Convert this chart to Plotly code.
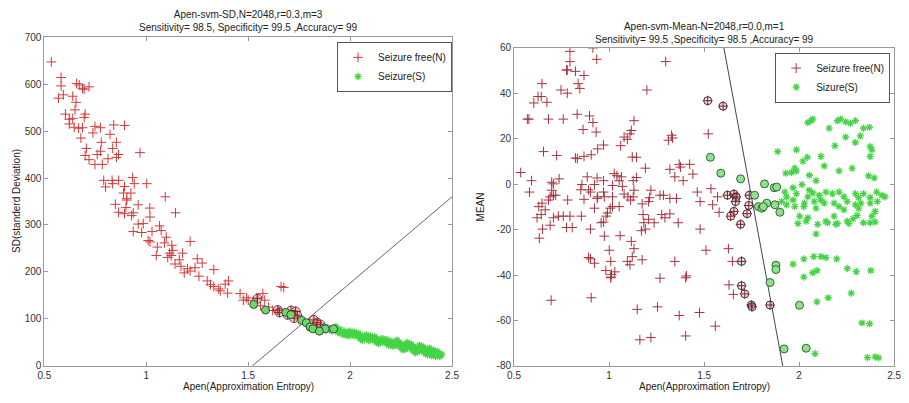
import plotly.graph_objects as go

# ---------------- Left panel: Apen vs SD ----------------
sd_n_pts = [(0.534,647),(0.582,614),(0.582,596),(0.593,577),(0.569,570),(0.658,601),(0.671,598),(0.687,591),(0.719,594),(0.695,589),(0.639,574),(0.655,561),(0.650,545),(0.603,536),(0.622,525),(0.639,527),(0.700,536),(0.695,529),(0.622,515),(0.646,508),(0.668,506),(0.687,507),(0.748,510),(0.775,507),(0.840,513),(0.893,512),(0.738,496),(0.822,493),(0.679,485),(0.779,476),(0.853,476),(0.706,463),(0.835,463),(0.969,454),(0.775,457),(0.759,450),(0.700,448),(0.864,450),(0.812,441),(0.853,444),(0.719,439),(0.748,429),(0.784,429),(0.791,395),(0.832,395),(0.864,395),(0.800,381),(0.835,388),(0.933,401),(0.941,388),(0.893,382),(1.002,388),(0.924,368),(0.888,368),(0.904,353),(1.093,360),(0.848,344),(0.900,337),(0.960,343),(1.017,336),(0.904,356),(0.864,327),(0.893,324),(0.936,326),(0.928,320),(1.018,317),(1.143,326),(0.960,302),(0.985,303),(1.065,298),(0.936,286),(0.977,284),(1.028,286),(1.073,288),(1.009,267),(1.018,264),(1.098,274),(1.215,265),(1.054,253),(1.089,262),(1.125,257),(1.130,246),(1.114,240),(1.122,235),(1.178,240),(1.049,235),(1.105,231),(1.162,226),(1.250,228),(1.141,217),(1.170,212),(1.202,207),(1.239,209),(1.274,219),(1.331,205),(1.186,198),(1.258,191),(1.215,202),(1.299,181),(1.403,181),(1.315,173),(1.331,169),(1.355,164),(1.363,160),(1.387,174),(1.399,155),(1.460,154),(1.492,145),(1.572,154),(1.661,169),(1.476,140),(1.500,140),(1.540,145),(1.581,140),(1.674,167),(1.600,125),(1.620,118),(1.560,128)]
sd_s_pts = [(1.80,86),(1.82,90),(1.84,84),(1.86,80),(1.87,84),(1.88,76),(1.89,82),(1.90,78),(1.91,74),(1.92,80),(1.93,76),(1.94,72),(1.95,78),(1.96,70),(1.97,74),(1.98,68),(1.99,72),(2.00,66),(2.01,70),(2.02,64),(2.03,68),(2.04,62),(2.05,66),(2.06,60),(2.07,64),(2.08,58),(2.09,62),(2.10,56),(2.11,60),(2.12,54),(2.13,58),(2.14,52),(2.15,57),(2.16,50),(2.17,54),(2.18,48),(2.19,53),(2.20,46),(2.21,51),(2.22,44),(2.23,49),(2.24,42),(2.25,47),(2.26,40),(2.27,45),(2.28,38),(2.29,43),(2.30,36),(2.31,41),(2.32,34),(2.33,39),(2.34,32),(2.35,37),(2.36,30),(2.37,35),(2.38,28),(2.39,32),(2.40,26),(2.41,30),(2.42,24),(2.43,27),(2.44,23),(2.45,25),(1.93,84),(1.97,66),(2.02,72),(2.05,58),(2.08,66),(2.12,62),(2.14,48),(2.18,56),(2.21,42),(2.24,50),(2.27,36),(2.30,46),(2.33,30),(2.36,40),(2.38,24),(2.41,34),(2.44,20),(1.95,70),(2.00,74),(2.06,54),(2.10,64),(2.16,58),(2.19,44),(2.23,55),(2.26,34),(2.29,48),(2.32,28),(2.35,42),(2.40,22),(2.43,31),(1.99,64),(2.04,70),(2.09,54),(2.13,50),(2.20,52),(2.25,38),(2.28,50),(2.31,32),(2.34,44),(2.37,26),(2.39,38),(2.42,20)]
sd_svn_pts = [(1.545,143),(1.645,119),(1.653,114),(1.693,109),(1.710,118),(1.733,116),(1.741,107),(1.725,102),(1.822,98),(1.838,92),(1.854,88)]
sd_svs_pts = [(1.527,131),(1.585,119),(1.685,114),(1.709,109),(1.762,97),(1.785,92),(1.803,83),(1.817,79),(1.871,81),(1.878,79),(1.919,79),(1.849,74)]
sd_boundary_x = [1.52, 2.5]
sd_boundary_y = [0, 360]

# ---------------- Right panel: Apen vs Mean ----------------
mean_n_pts = [(0.535,5.1),(0.578,28.6),(0.570,28.6),(0.604,35.7),(0.626,38.5),(0.643,38.5),(0.647,44.2),(0.673,36),(0.592,1.5),(0.581,-3.5),(0.681,28.6),(0.655,14.3),(0.724,12.6),(0.759,28.6),(0.747,41.4),(0.780,50.2),(0.794,53.9),(0.780,40),(0.823,49.6),(0.868,47.8),(0.837,44.2),(0.846,42.1),(0.935,54.9),(0.832,30.7),(0.897,30),(0.915,27.1),(0.932,22.9),(0.863,24),(0.823,11.5),(0.833,11.2),(0.868,12.2),(0.906,12.9),(0.940,15.5),(0.971,17.2),(1.061,16.9),(1.079,20.7),(1.096,19.7),(1.117,23.6),(1.110,22.1),(1.131,27.9),(1.122,11.9),(1.144,11.8),(1.199,41.4),(1.298,53.9),(1.312,19.3),(1.329,21.5),(1.334,20.3),(1.369,8.7),(1.376,7.5),(1.424,8.7),(1.441,4.4),(1.320,6.5),(1.346,3.2),(1.390,1.5),(1.286,-4.9),(1.355,-6.3),(1.220,-2.7),(1.213,-6),(1.320,-13.1),(1.277,-13.4),(1.237,-17),(1.364,-17),(1.174,-8.7),(1.179,-13.4),(1.183,-17),(1.208,-15.5),(1.170,-20.5),(1.131,-2.7),(1.144,2.9),(1.127,1.5),(1.191,7),(1.065,3.2),(1.053,1.5),(1.027,4.6),(1.041,3.7),(1.018,-0.6),(0.971,1.5),(0.937,2.7),(0.923,-0.2),(0.885,3.2),(0.892,-2.5),(0.851,-2.5),(0.857,-0.2),(0.940,-5.6),(0.937,-6.3),(0.971,-3.5),(0.975,-5.6),(1.018,-5.6),(1.006,-10.6),(1.018,-9.9),(0.992,-12.7),(0.984,-14.1),(0.958,-17),(0.971,-16.7),(0.923,-10.6),(0.902,-19.8),(0.975,-22.9),(1.058,-22.7),(1.117,-25.2),(1.001,-29.1),(0.892,-32.3),(0.902,-32.9),(0.923,-34.8),(1.009,-34),(1.122,-31.9),(1.110,-35.5),(0.983,-38),(1.013,-39.7),(1.030,-38.6),(1.009,-40.9),(1.096,-34),(1.174,-33.3),(1.268,-41.4),(1.346,-34),(1.407,-40.4),(1.294,-14.8),(1.268,-4.9),(1.320,-6.3),(1.208,-7.7),(1.099,-5.6),(1.079,-4.4),(1.127,-5.6),(1.113,-7),(1.070,-1),(1.053,-9.9),(0.854,-14.1),(0.794,-14.1),(0.776,-19.1),(0.806,-19.1),(0.759,-14.1),(0.733,-14.1),(0.707,-14.8),(0.690,-18.1),(0.650,-19.8),(0.633,-23.8),(0.621,-14.8),(0.643,-13.4),(0.630,-9.9),(0.647,-8.4),(0.664,-11.3),(0.681,-7),(0.690,-5.6),(0.707,-4.9),(0.698,-2.7),(0.707,0.1),(0.698,0.8),(0.719,-4.9),(0.737,2.3),(0.782,-7),(0.868,-6.7),(0.902,-3.5),(1.191,-19.8),(1.131,-28.4),(1.522,22.1),(1.536,-2),(1.510,-29.1),(1.479,-19.8),(1.479,-7.7),(1.464,-3.5),(1.545,-9.1),(1.579,-12.4),(1.571,-5.6),(1.628,-28.4),(1.649,-34),(1.631,-44.3),(1.654,-48.5),(0.695,-51.1),(0.906,-50),(1.148,-55.1),(1.255,-54),(1.369,-57.8),(1.476,-56.5),(1.559,-62.5),(1.162,-68.5),(1.220,-67.5),(1.403,-66.8),(1.009,-41.2),(1.403,-41.2),(0.794,58.4),(0.915,59.9),(0.776,50.2)]
mean_s_pts = [(2.063,27.9),(2.046,27.1),(2.072,28.6),(2.201,27.9),(2.219,28.6),(2.245,27.4),(2.270,26.8),(2.296,27.9),(2.158,24.6),(2.339,24.6),(2.370,25),(2.322,21.2),(2.245,20.7),(2.296,18.3),(2.188,16.9),(2.374,16.5),(2.383,15.1),(2.374,12.2),(1.887,14.3),(1.986,15.1),(2.115,12.2),(2.043,11.8),(2.020,10.1),(2.132,8),(2.279,7),(2.210,5.8),(1.977,7),(1.986,5.8),(1.960,5.1),(1.930,4.8),(2.054,3.9),(2.365,3.6),(2.395,2.7),(2.089,1.5),(2.015,-0.2),(1.968,-1.6),(1.925,-3.5),(1.986,-4.2),(2.054,-2.7),(2.046,-5.6),(2.072,-3.9),(2.106,-4.9),(2.141,-3.5),(2.175,-4.2),(2.210,-3.5),(2.115,-7),(2.080,-7.7),(2.028,-8.4),(1.968,-7),(1.934,-5.6),(1.908,-7.7),(1.934,-9.1),(2.236,-5.6),(2.253,-7.7),(2.296,-4.2),(2.313,-5.9),(2.339,-4.2),(2.374,-5.9),(2.408,-3.5),(2.435,-4.9),(2.452,-5.6),(2.412,-7.7),(2.374,-8.4),(2.325,-8.4),(2.296,-9.1),(2.184,-8.4),(2.132,-8.4),(2.025,-9.9),(1.977,-9.9),(2.089,-10.6),(2.210,-9.9),(2.236,-11.3),(2.313,-10.6),(2.400,-12),(2.383,-14.1),(2.305,-13.8),(2.284,-15.2),(2.253,-16.3),(2.262,-17.3),(2.184,-14.1),(2.201,-17.3),(2.149,-17),(2.098,-17.7),(2.046,-14.8),(2.003,-14.1),(1.994,-17.3),(2.089,-21.9),(2.339,-17),(2.374,-17),(2.400,-16.7),(2.037,-16.3),(2.141,-16.3),(2.193,-17.7),(1.968,-35.2),(2.025,-32.9),(2.077,-31.9),(2.115,-31.9),(2.141,-32.3),(2.198,-32.9),(2.094,-38),(2.072,-39),(2.025,-40.9),(2.253,-37.1),(2.301,-38.5),(2.377,-38),(2.274,-48),(2.153,-50),(2.094,-51.8),(2.331,-61.1),(2.371,-61.4),(2.084,-74.6),(2.360,-76.3),(2.400,-76),(2.417,-76.4)]
mean_svn_pts = [(1.519,36.7),(1.600,34.3),(1.623,-4.9),(1.657,-4.4),(1.669,-5.6),(1.666,-7.7),(1.657,-12),(1.640,-14.1),(1.692,-17.7),(1.726,-13),(1.738,-4.9),(1.735,-9.4),(1.697,-34),(1.697,-44.7),(1.714,-48.3),(1.749,-53.2),(1.752,-54),(1.847,-53.2)]
mean_svs_pts = [(1.533,11.8),(1.588,4.8),(1.692,2.3),(1.766,-4.9),(1.818,0.1),(1.869,-1.6),(1.882,-1.3),(1.873,-9.1),(1.899,-12.4),(1.786,-9.9),(1.804,-10.6),(1.830,-8.4),(1.812,-9.9),(1.847,-43.3),(1.878,-35.7),(1.878,-37.6),(2.002,-53.3),(1.921,-72.5),(2.037,-72.2)]
mean_boundary_x = [1.604, 1.914]
mean_boundary_y = [60, -80]

x_ticks = [0.5, 1, 1.5, 2, 2.5]
x_tick_text = ["0.5", "1", "1.5", "2", "2.5"]
sd_ticks = [0, 100, 200, 300, 400, 500, 600, 700]
mean_ticks = [-80, -60, -40, -20, 0, 20, 40, 60]

RED_L = "#d23a3a"
RED_R = "#a8333e"
GREEN = "#44d444"
FONT = "Liberation Sans, Arial, sans-serif"

def xs(p):
    return [a for a, _ in p]

def ys(p):
    return [b for _, b in p]

fig = go.Figure()

# Left traces
fig.add_trace(go.Scatter(x=sd_boundary_x, y=sd_boundary_y, mode="lines", line=dict(color="#666", width=1),
                         showlegend=False, xaxis="x", yaxis="y", hoverinfo="skip"))
fig.add_trace(go.Scatter(x=xs(sd_n_pts), y=ys(sd_n_pts), mode="markers", name="Seizure free(N)",
                         marker=dict(symbol="cross-thin", size=7, color=RED_L, line=dict(color=RED_L, width=1)),
                         xaxis="x", yaxis="y", legend="legend"))
fig.add_trace(go.Scatter(x=xs(sd_s_pts), y=ys(sd_s_pts), mode="markers", name="Seizure(S)",
                         marker=dict(symbol="asterisk", size=6, color=GREEN, line=dict(color=GREEN, width=1.3)),
                         xaxis="x", yaxis="y", legend="legend"))
fig.add_trace(go.Scatter(x=xs(sd_svn_pts), y=ys(sd_svn_pts), mode="markers", showlegend=False,
                         marker=dict(symbol="circle", size=9, color="rgba(240,170,170,0.6)", line=dict(color="#555", width=1)),
                         xaxis="x", yaxis="y"))
fig.add_trace(go.Scatter(x=xs(sd_svn_pts), y=ys(sd_svn_pts), mode="markers", showlegend=False,
                         marker=dict(symbol="cross-thin", size=7, color="#b01010", line=dict(color="#b01010", width=1)),
                         xaxis="x", yaxis="y"))
fig.add_trace(go.Scatter(x=xs(sd_svs_pts), y=ys(sd_svs_pts), mode="markers", showlegend=False,
                         marker=dict(symbol="circle", size=8, color="#66dd66", line=dict(color="#444", width=1)),
                         xaxis="x", yaxis="y"))

# Right traces
fig.add_trace(go.Scatter(x=mean_boundary_x, y=mean_boundary_y, mode="lines", line=dict(color="#444", width=1),
                         showlegend=False, xaxis="x2", yaxis="y2", hoverinfo="skip"))
fig.add_trace(go.Scatter(x=xs(mean_n_pts), y=ys(mean_n_pts), mode="markers", name="Seizure free(N)",
                         marker=dict(symbol="cross-thin", size=7, color=RED_R, line=dict(color=RED_R, width=1)),
                         xaxis="x2", yaxis="y2", legend="legend2"))
fig.add_trace(go.Scatter(x=xs(mean_s_pts), y=ys(mean_s_pts), mode="markers", name="Sizure(S)",
                         marker=dict(symbol="asterisk", size=6, color=GREEN, line=dict(color=GREEN, width=1.3)),
                         xaxis="x2", yaxis="y2", legend="legend2"))
fig.add_trace(go.Scatter(x=xs(mean_svn_pts), y=ys(mean_svn_pts), mode="markers", showlegend=False,
                         marker=dict(symbol="circle", size=8, color="rgba(230,190,190,0.5)", line=dict(color="#333", width=1)),
                         xaxis="x2", yaxis="y2"))
fig.add_trace(go.Scatter(x=xs(mean_svn_pts), y=ys(mean_svn_pts), mode="markers", showlegend=False,
                         marker=dict(symbol="cross-thin", size=7, color="#802030", line=dict(color="#802030", width=1)),
                         xaxis="x2", yaxis="y2"))
fig.add_trace(go.Scatter(x=xs(mean_svs_pts), y=ys(mean_svs_pts), mode="markers", showlegend=False,
                         marker=dict(symbol="circle", size=8, color="#8fe08f", line=dict(color="#336633", width=1)),
                         xaxis="x2", yaxis="y2"))

W, H = 909, 403
def px(v):
    return v / W
def py(v):
    return (H - v) / H

axis_common = dict(showgrid=False, zeroline=False, showline=True, linecolor="#9a9a9a", linewidth=1,
                   mirror="ticks", ticks="inside", ticklen=4, tickcolor="#9a9a9a", ticklabeloverflow="allow",
                   tickfont=dict(family=FONT, size=10, color="#333"))

legend_common = dict(xanchor="right", yanchor="top", bordercolor="#555", borderwidth=1,
                     bgcolor="white", font=dict(family=FONT, size=10, color="#222"), itemwidth=30, tracegroupgap=0)

fig.update_layout(
    width=W, height=H, margin=dict(l=0, r=0, t=0, b=0),
    paper_bgcolor="white", plot_bgcolor="white",
    font=dict(family=FONT, size=10, color="#333"),
    xaxis=dict(domain=[px(38), px(452)], range=[0.5, 2.5], tickvals=x_ticks, ticktext=x_tick_text, anchor="y", **axis_common),
    yaxis=dict(domain=[py(371), py(32)], range=[0, 700], tickvals=sd_ticks, anchor="x", **axis_common),
    xaxis2=dict(domain=[px(515), px(901)], range=[0.5, 2.5], tickvals=x_ticks, ticktext=x_tick_text, anchor="y2", **axis_common),
    yaxis2=dict(domain=[py(371), py(43)], range=[-80, 60], tickvals=mean_ticks, ticktext=[str(v) for v in mean_ticks], anchor="x2", **axis_common),
    legend=dict(x=px(452), y=py(37), **legend_common),
    legend2=dict(x=px(897), y=py(48), **legend_common),
    annotations=[
        dict(text="Apen-svm-SD,N=2048,r=0.3,m=3<br>Sensitivity= 98.5, Specificity= 99.5 ,Accuracy= 99",
             x=px(245), y=py(1), xref="paper", yref="paper", xanchor="center", yanchor="top", showarrow=False,
             font=dict(family=FONT, size=10, color="#222")),
        dict(text="Apen-svm-Mean-N=2048,r=0.0,m=1<br>Sensitivity= 99.5 ,Specificity= 98.5 ,Accuracy= 99",
             x=px(708), y=py(13), xref="paper", yref="paper", xanchor="center", yanchor="top", showarrow=False,
             font=dict(family=FONT, size=10, color="#222")),
        dict(text="Apen(Approximation Entropy)", x=px(245), y=py(392), xref="paper", yref="paper",
             xanchor="center", yanchor="middle", showarrow=False, font=dict(family=FONT, size=10, color="#222")),
        dict(text="Apen(Approximation Entropy)", x=px(708), y=py(392), xref="paper", yref="paper",
             xanchor="center", yanchor="middle", showarrow=False, font=dict(family=FONT, size=10, color="#222")),
        dict(text="SD(standerd Deviation)", x=px(9), y=py(201), xref="paper", yref="paper", textangle=-90,
             xanchor="center", yanchor="middle", showarrow=False, font=dict(family=FONT, size=10, color="#222")),
        dict(text="MEAN", x=px(481), y=py(207), xref="paper", yref="paper", textangle=-90,
             xanchor="center", yanchor="middle", showarrow=False, font=dict(family=FONT, size=10, color="#222")),
    ],
)

fig.write_html("out.html", config={"displayModeBar": False},
               post_script="document.body.style.margin='0';document.body.style.padding='0';")
